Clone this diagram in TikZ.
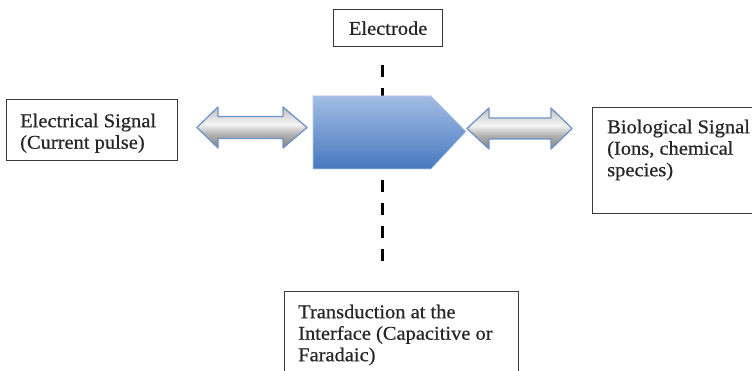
\documentclass[tikz,border=0pt]{standalone}
\usepackage{fontspec}
\setmainfont{Liberation Serif}[FakeStretch=1.05,FakeBold=0.6]
\usetikzlibrary{shadings}
\pgfdeclareverticalshading{metal}{100bp}{color(0bp)=(black!50); color(25bp)=(black!50); color(42bp)=(black!30); color(54bp)=(black!4); color(64bp)=(black!14); color(75bp)=(black!26); color(100bp)=(black!26)}
\definecolor{bluetop}{HTML}{A3BDE3}
\definecolor{bluebot}{HTML}{4779BF}
\definecolor{arrline}{HTML}{6F93C8}
\definecolor{boxline}{HTML}{3A3A3A}
\tikzset{
  box/.style={draw=boxline, line width=1.3pt, fill=white, inner sep=0pt},
  txt/.style={inner sep=0pt, align=left, font=\fontsize{19.5}{21.5}\selectfont, text=black!85},
  dbl/.style={draw=arrline, line width=1.3pt, shading=metal, line join=round},
  blueshape/.style={top color=bluetop, bottom color=bluebot, draw=bluetop!80!white, line width=0.6pt},
  dashline/.style={draw=black, line width=3pt, dash pattern=on 12pt off 11pt}
}
\begin{document}
\begin{tikzpicture}[x=1pt,y=-1pt]
\clip (0,0) rectangle (752,371);
\fill[white] (0,0) rectangle (752,371);
% dashed electrode line
\coordinate (dtop) at (382,65);
\coordinate (dbot) at (382,263);
\draw[dashline] (dtop) -- (dbot);
% central blue shape
\path[blueshape] (313,96) -- (431,96) -- (466,131.5) -- (431,169) -- (313,169) -- cycle;
% left double arrow
\path[dbl] (197,127.5) -- (218,107) -- (218,116.5) -- (283,116.5) -- (283,107) -- (307,127.5) -- (283,148) -- (283,138.5) -- (218,138.5) -- (218,148) -- cycle;
% right double arrow
\path[dbl] (467,128.5) -- (489,108) -- (489,118) -- (551,118) -- (551,108) -- (572,128.5) -- (551,149) -- (551,139) -- (489,139) -- (489,149) -- cycle;
% Electrode box
\node[box, txt, draw=boxline, minimum width=109pt, minimum height=37pt, anchor=north west] (elec) at (333,9) {Electrode};
% Electrical signal box
\node[box, minimum width=171pt, minimum height=61pt, anchor=north west] (esig) at (6,99) {};
\node[txt, anchor=north west] (esigtxt) at (20,113.5) {Electrical Signal\\(Current pulse)};
% Biological signal box
\node[box, minimum width=170pt, minimum height=106pt, anchor=north west] (bsig) at (592,107) {};
\node[txt, anchor=north west] (bsigtxt) at (607,119.5) {Biological Signal\\(Ions, chemical\\species)};
% Transduction box
\node[box, minimum width=234pt, minimum height=100pt, anchor=north west] (trans) at (284,291) {};
\node[txt, anchor=north west] (transtxt) at (298,304.5) {Transduction at the\\Interface (Capacitive or\\Faradaic)};
\end{tikzpicture}
\end{document}
